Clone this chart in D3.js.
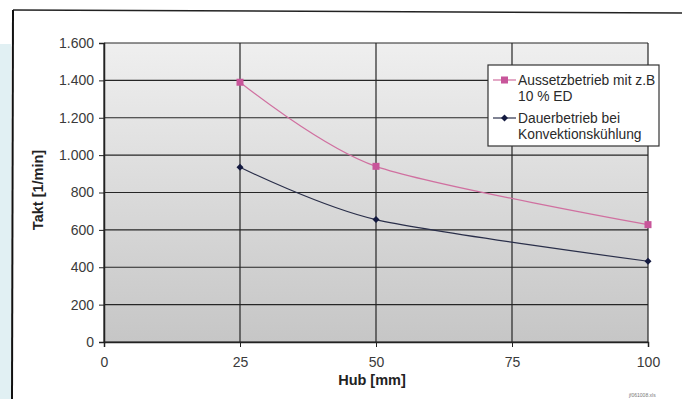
<!DOCTYPE html>
<html>
<head>
<meta charset="utf-8">
<script src="https://cdn.jsdelivr.net/npm/d3@7"></script>
<style>
  body { margin: 0; background: #fff; }
  svg { display: block; font-family: "Liberation Sans", Arial, sans-serif; }
</style>
</head>
<body>
<div id="chart"></div>
<script>
// chart data
const hub = [25, 50, 100];
const aussetz = [1390, 940, 628];
const dauer = [935, 655, 432];
const xTicks = [0, 25, 50, 75, 100];
const yTicks = [0, 200, 400, 600, 800, 1000, 1200, 1400, 1600];
const seriesNames = [
  ["Aussetzbetrieb mit z.B", "10 % ED"],
  ["Dauerbetrieb bei", "Konvektionskühlung"]
];

const W = 682, H = 399;
const plot = { left: 104, right: 648, top: 43, bottom: 342 };

const svg = d3.select("#chart").append("svg")
  .attr("width", W).attr("height", H);

// photo backdrop + frame
svg.append("rect").attr("x", 0).attr("y", 0).attr("width", W).attr("height", H).attr("fill", "#fff");
svg.append("rect").attr("x", 0).attr("y", 44).attr("width", 11).attr("height", H - 44).attr("fill", "#e1f0f3");
svg.append("line").attr("x1", 13).attr("y1", 10).attr("x2", W).attr("y2", 13)
  .attr("stroke", "#222").attr("stroke-width", 1.5);
svg.append("line").attr("x1", 13).attr("y1", 10).attr("x2", 12).attr("y2", H)
  .attr("stroke", "#111").attr("stroke-width", 2);

const x = d3.scaleLinear().domain([0, 100]).range([plot.left, plot.right]);
const y = d3.scaleLinear().domain([0, 1600]).range([plot.bottom, plot.top]);

// plot background gradient
const defs = svg.append("defs");
const grad = defs.append("linearGradient").attr("id", "bg")
  .attr("x1", 0).attr("y1", 0).attr("x2", 0).attr("y2", 1);
grad.append("stop").attr("offset", "0%").attr("stop-color", "#efefef");
grad.append("stop").attr("offset", "100%").attr("stop-color", "#c6c6c6");

svg.append("rect")
  .attr("x", plot.left).attr("y", plot.top)
  .attr("width", plot.right - plot.left).attr("height", plot.bottom - plot.top)
  .attr("fill", "url(#bg)");

// gridlines
svg.append("g").selectAll("line").data(yTicks).join("line")
  .attr("x1", plot.left).attr("x2", plot.right)
  .attr("y1", d => y(d)).attr("y2", d => y(d))
  .attr("stroke", "#262626").attr("stroke-width", 1.2);
svg.append("g").selectAll("line").data(xTicks).join("line")
  .attr("x1", d => x(d)).attr("x2", d => x(d))
  .attr("y1", plot.top).attr("y2", plot.bottom)
  .attr("stroke", "#262626").attr("stroke-width", 1.2);

// axes
const yAxis = svg.append("g").attr("transform", `translate(${plot.left},0)`)
  .call(d3.axisLeft(y).tickValues(yTicks).tickSize(5).tickPadding(5)
    .tickFormat(d => d3.format(",")(d).replace(",", ".")));
const xAxis = svg.append("g").attr("transform", `translate(0,${plot.bottom})`)
  .call(d3.axisBottom(x).tickValues(xTicks).tickSize(5).tickPadding(10));
[xAxis, yAxis].forEach(a => {
  a.select(".domain").attr("stroke", "#222").attr("stroke-width", 1.5);
  a.selectAll(".tick line").attr("stroke", "#222");
  a.selectAll("text").attr("font-size", 14).attr("fill", "#3a3a3a")
    .attr("font-family", "Liberation Sans, Arial, sans-serif");
});

// axis titles
svg.append("text").attr("x", 372).attr("y", 385).attr("text-anchor", "middle")
  .attr("font-size", 14.5).attr("font-weight", "bold").attr("fill", "#222")
  .text("Hub [mm]");
svg.append("text").attr("transform", "translate(43,190) rotate(-90)")
  .attr("text-anchor", "middle").attr("font-size", 14.5).attr("font-weight", "bold").attr("fill", "#222")
  .text("Takt [1/min]");
svg.append("text").attr("x", 629).attr("y", 397).attr("font-size", 5).attr("fill", "#777")
  .text("jf061008.xls");

// series
const line = d3.line().x(d => x(d[0])).y(d => y(d[1])).curve(d3.curveCardinal.tension(0.2));
const pinkData = d3.zip(hub, aussetz);
const darkData = d3.zip(hub, dauer);

svg.append("path").datum(pinkData).attr("d", line)
  .attr("fill", "none").attr("stroke", "#d070a0").attr("stroke-width", 1.2);
svg.append("path").datum(darkData).attr("d", line)
  .attr("fill", "none").attr("stroke", "#2a2f4a").attr("stroke-width", 1.2);

svg.append("g").selectAll("rect").data(pinkData).join("rect")
  .attr("x", d => x(d[0]) - 3.5).attr("y", d => y(d[1]) - 3.5)
  .attr("width", 7).attr("height", 7).attr("fill", "#c8559a");
svg.append("g").selectAll("path").data(darkData).join("path")
  .attr("d", d => `M${x(d[0])},${y(d[1]) - 3.5}l3.5,3.5l-3.5,3.5l-3.5,-3.5z`)
  .attr("fill", "#141a40");

// legend
const lg = svg.append("g").attr("transform", "translate(488,65)");
lg.append("rect").attr("width", 171).attr("height", 81)
  .attr("fill", "#fff").attr("stroke", "#333").attr("stroke-width", 1.2);
const rows = [
  { y: 15, color: "#d070a0", mark: "rect", fill: "#c8559a" },
  { y: 53, color: "#2a2f4a", mark: "diamond", fill: "#141a40" }
];
rows.forEach((r, i) => {
  lg.append("line").attr("x1", 5).attr("x2", 28).attr("y1", r.y).attr("y2", r.y)
    .attr("stroke", r.color).attr("stroke-width", 1.2);
  if (r.mark === "rect") {
    lg.append("rect").attr("x", 13).attr("y", r.y - 3.5).attr("width", 7).attr("height", 7).attr("fill", r.fill);
  } else {
    lg.append("path").attr("d", `M16.5,${r.y - 3.5}l3.5,3.5l-3.5,3.5l-3.5,-3.5z`).attr("fill", r.fill);
  }
  seriesNames[i].forEach((t, j) => {
    lg.append("text").attr("x", 30).attr("y", r.y + 5 + j * 16)
      .attr("font-size", 13.8).attr("fill", "#2a2a2a").text(t);
  });
});
</script>
</body>
</html>
